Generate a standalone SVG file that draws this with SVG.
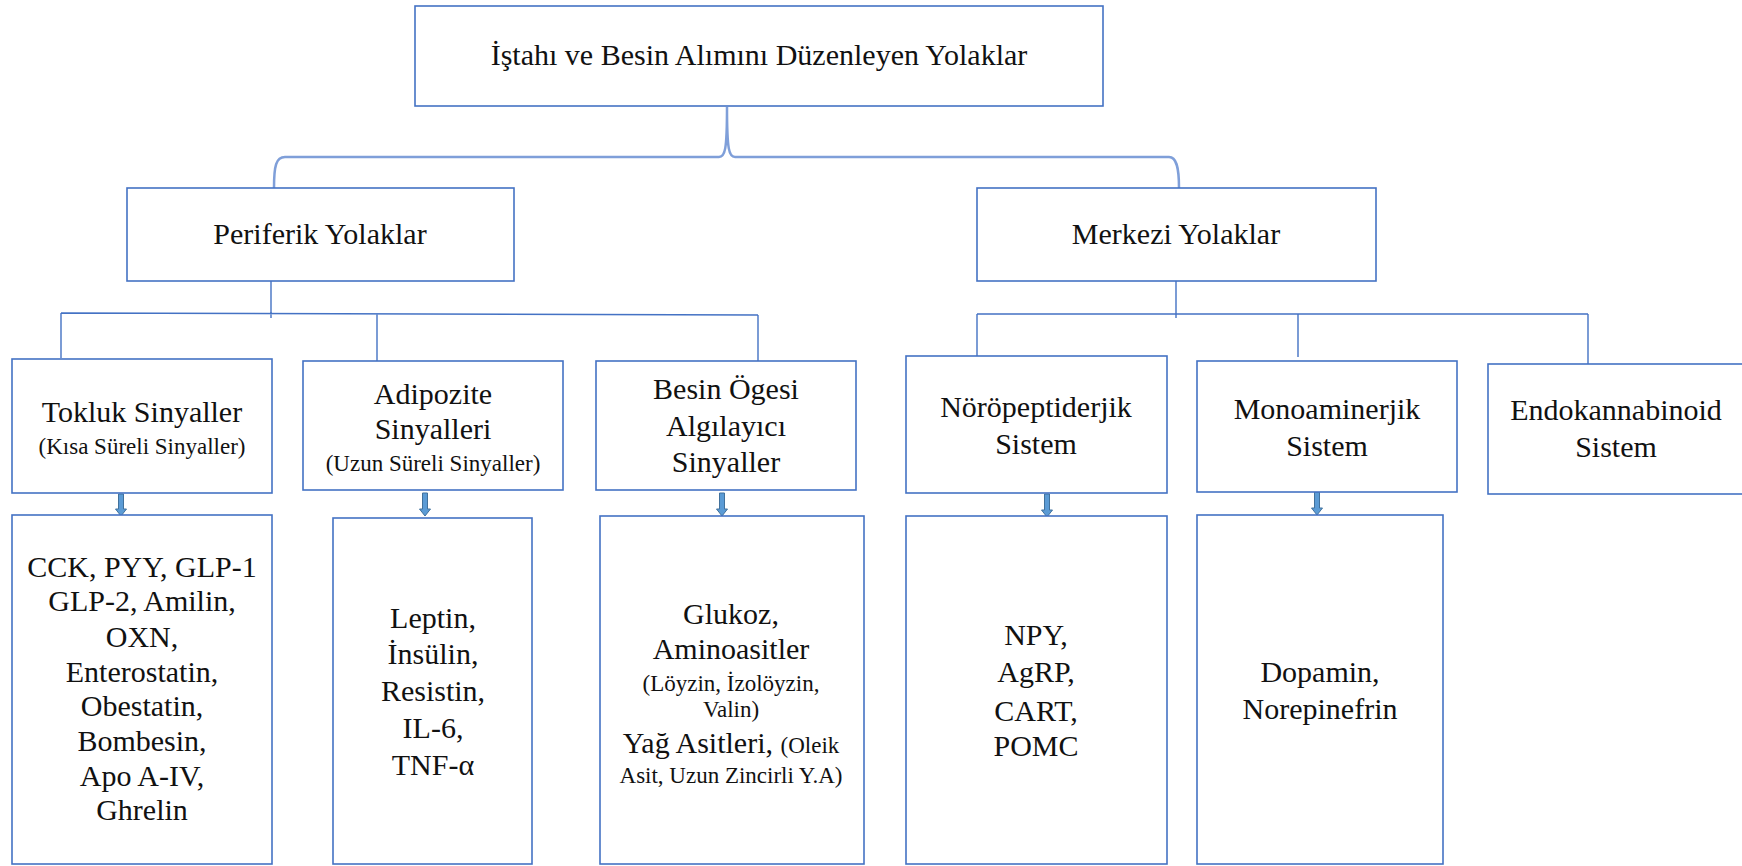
<svg xmlns="http://www.w3.org/2000/svg" width="1742" height="866" viewBox="0 0 1742 866">
<defs>
<style>
.box{fill:#fff;stroke:#4472C4;stroke-width:1.6}
.ln{fill:none;stroke:#4472C4;stroke-width:1.4}
.br{fill:none;stroke:#7F9FD9;stroke-width:2.5}
.arr{fill:#5B9BD5;stroke:#41719C;stroke-width:1}
</style>
</defs>
<rect width="1742" height="866" fill="#fff"/>
<g id="connectors">
<path class="br" d="M274,188 C274,166 276,157 285,157 L719,157 C725,157 727,150 727,107 C727,150 729,157 735,157 L1169,157 C1176,157 1179,166 1179,188"/>
<path class="ln" d="M271,275 V318 M61,313 L758,315 M61,313 V358 M377,314 V361 M758,315 V361"/>
<path class="ln" d="M1176,281 V318 M977,314 H1588 M977,314 V356 M1298,314 V357 M1588,314 V364"/>
<path class="arr" d="M118.5,494 h5 v15 h3 l-5.5,7 l-5.5,-7 h3 z"/>
<path class="arr" d="M422.5,493 h5 v16 h3 l-5.5,7 l-5.5,-7 h3 z"/>
<path class="arr" d="M719.5,493 h5 v16 h3 l-5.5,7 l-5.5,-7 h3 z"/>
<path class="arr" d="M1044.5,494 h5 v16 h3 l-5.5,7 l-5.5,-7 h3 z"/>
<path class="arr" d="M1314.5,492 h5 v16 h3 l-5.5,7 l-5.5,-7 h3 z"/>
</g>
<g font-family="Liberation Serif" font-size="30" fill="#111" text-anchor="middle">
<g id="root">
<rect class="box" x="415" y="6" width="688" height="100"/>
<text font-family="Liberation Serif" x="759" y="65">İştahı ve Besin Alımını Düzenleyen Yolaklar</text>
</g>
<g id="periferik">
<rect class="box" x="127" y="188" width="387" height="93"/>
<text font-family="Liberation Serif" x="320" y="244">Periferik Yolaklar</text>
</g>
<g id="merkezi">
<rect class="box" x="977" y="188" width="399" height="93"/>
<text font-family="Liberation Serif" x="1176" y="244">Merkezi Yolaklar</text>
</g>
<g id="tokluk">
<rect class="box" x="12" y="359" width="260" height="134"/>
<text font-family="Liberation Serif" x="142" y="422">Tokluk Sinyaller</text>
<text font-family="Liberation Serif" font-size="23" x="142" y="454">(Kısa Süreli Sinyaller)</text>
</g>
<g id="adipozite">
<rect class="box" x="303" y="361" width="260" height="129"/>
<text font-family="Liberation Serif" x="433" y="404">Adipozite</text>
<text font-family="Liberation Serif" x="433" y="439">Sinyalleri</text>
<text font-family="Liberation Serif" font-size="23" x="433" y="471">(Uzun Süreli Sinyaller)</text>
</g>
<g id="besin">
<rect class="box" x="596" y="361" width="260" height="129"/>
<text font-family="Liberation Serif" x="726" y="399">Besin Ögesi</text>
<text font-family="Liberation Serif" x="726" y="436">Algılayıcı</text>
<text font-family="Liberation Serif" x="726" y="472">Sinyaller</text>
</g>
<g id="noro">
<rect class="box" x="906" y="356" width="261" height="137"/>
<text font-family="Liberation Serif" x="1036" y="417">Nöröpeptiderjik</text>
<text font-family="Liberation Serif" x="1036" y="454">Sistem</text>
</g>
<g id="mono">
<rect class="box" x="1197" y="361" width="260" height="131"/>
<text font-family="Liberation Serif" x="1327" y="419">Monoaminerjik</text>
<text font-family="Liberation Serif" x="1327" y="456">Sistem</text>
</g>
<g id="endo">
<rect class="box" x="1488" y="364" width="260" height="130"/>
<text font-family="Liberation Serif" x="1616" y="420">Endokannabinoid</text>
<text font-family="Liberation Serif" x="1616" y="457">Sistem</text>
</g>
<g id="tokluk-list">
<rect class="box" x="12" y="515" width="260" height="349"/>
<text font-family="Liberation Serif" x="142" y="577">CCK, PYY, GLP-1</text>
<text font-family="Liberation Serif" x="142" y="611">GLP-2, Amilin,</text>
<text font-family="Liberation Serif" x="142" y="647">OXN,</text>
<text font-family="Liberation Serif" x="142" y="682">Enterostatin,</text>
<text font-family="Liberation Serif" x="142" y="716">Obestatin,</text>
<text font-family="Liberation Serif" x="142" y="751">Bombesin,</text>
<text font-family="Liberation Serif" x="142" y="786">Apo A-IV,</text>
<text font-family="Liberation Serif" x="142" y="820">Ghrelin</text>
</g>
<g id="adipozite-list">
<rect class="box" x="333" y="518" width="199" height="346"/>
<text font-family="Liberation Serif" x="433" y="628">Leptin,</text>
<text font-family="Liberation Serif" x="433" y="664">İnsülin,</text>
<text font-family="Liberation Serif" x="433" y="701">Resistin,</text>
<text font-family="Liberation Serif" x="433" y="738">IL-6,</text>
<text font-family="Liberation Serif" x="433" y="775">TNF-α</text>
</g>
<g id="besin-list">
<rect class="box" x="600" y="516" width="264" height="348"/>
<text font-family="Liberation Serif" x="731" y="624">Glukoz,</text>
<text font-family="Liberation Serif" x="731" y="659">Aminoasitler</text>
<text font-family="Liberation Serif" font-size="23" x="731" y="691">(Löyzin, İzolöyzin,</text>
<text font-family="Liberation Serif" font-size="23" x="731" y="717">Valin)</text>
<text font-family="Liberation Serif" x="731" y="753">Yağ Asitleri, <tspan font-size="23">(Oleik</tspan></text>
<text font-family="Liberation Serif" font-size="23" x="731" y="783">Asit, Uzun Zincirli Y.A)</text>
</g>
<g id="noro-list">
<rect class="box" x="906" y="516" width="261" height="348"/>
<text font-family="Liberation Serif" x="1036" y="645">NPY,</text>
<text font-family="Liberation Serif" x="1036" y="682">AgRP,</text>
<text font-family="Liberation Serif" x="1036" y="721">CART,</text>
<text font-family="Liberation Serif" x="1036" y="756">POMC</text>
</g>
<g id="mono-list">
<rect class="box" x="1197" y="515" width="246" height="349"/>
<text font-family="Liberation Serif" x="1320" y="682">Dopamin,</text>
<text font-family="Liberation Serif" x="1320" y="719">Norepinefrin</text>
</g>
</g>
</svg>
